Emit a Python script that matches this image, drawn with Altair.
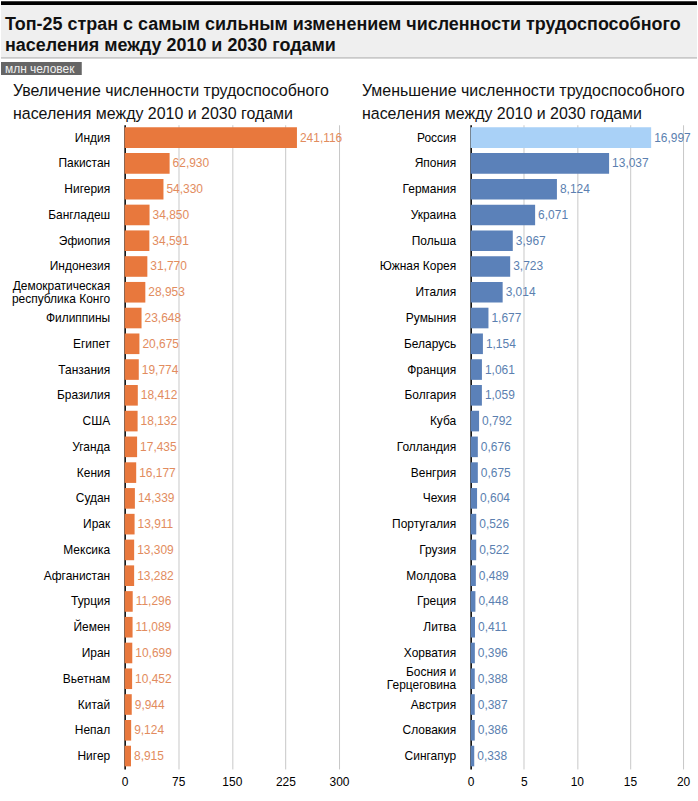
import altair as alt
import pandas as pd

inc_countries = ["Индия", "Пакистан", "Нигерия", "Бангладеш", "Эфиопия", "Индонезия",
                 "Демократическая|республика Конго", "Филиппины", "Египет", "Танзания",
                 "Бразилия", "США", "Уганда", "Кения", "Судан", "Ирак", "Мексика",
                 "Афганистан", "Турция", "Йемен", "Иран", "Вьетнам", "Китай", "Непал", "Нигер"]
inc_values = [241.116, 62.930, 54.330, 34.850, 34.591, 31.770, 28.953, 23.648, 20.675, 19.774,
              18.412, 18.132, 17.435, 16.177, 14.339, 13.911, 13.309, 13.282, 11.296, 11.089,
              10.699, 10.452, 9.944, 9.124, 8.915]

dec_countries = ["Россия", "Япония", "Германия", "Украина", "Польша", "Южная Корея", "Италия",
                 "Румыния", "Беларусь", "Франция", "Болгария", "Куба", "Голландия", "Венгрия",
                 "Чехия", "Португалия", "Грузия", "Молдова", "Греция", "Литва", "Хорватия",
                 "Босния и|Герцеговина", "Австрия", "Словакия", "Сингапур"]
dec_values = [16.997, 13.037, 8.124, 6.071, 3.967, 3.723, 3.014, 1.677, 1.154, 1.061, 1.059,
              0.792, 0.676, 0.675, 0.604, 0.526, 0.522, 0.489, 0.448, 0.411, 0.396, 0.388,
              0.387, 0.386, 0.338]

left_ticks = [0, 75, 150, 225, 300]
right_ticks = [0, 5, 10, 15, 20]
highlight = "Россия"

title_text = "Топ-25 стран с самым сильным изменением численности трудоспособного\nнаселения между 2010 и 2030 годами"
unit_text = "млн человек"
sub_left = "Увеличение численности трудоспособного\nнаселения между 2010 и 2030 годами"
sub_right = "Уменьшение численности трудоспособного\nнаселения между 2010 и 2030 годами"

FONT = "Liberation Sans"

PLOT_H = 646


def panel(countries, values, xmax, ticks, bar_color, label_color):
    df = pd.DataFrame({"country": countries, "value": values})
    y = alt.Y("country:N", sort=countries, title=None,
              scale=alt.Scale(paddingInner=0.2, paddingOuter=0.1),
              axis=alt.Axis(labelExpr="split(datum.label, '|')", labelFont=FONT,
                            labelFontSize=12, labelColor="#000", labelPadding=15,
                            labelLineHeight=13, labelLimit=250, ticks=False,
                            labelOffset=alt.condition("indexof(datum.value, '|') >= 0",
                                                      alt.value(-6.5), alt.value(0)),
                            domainColor="#000", domainWidth=1.5, grid=False))
    x = alt.X("value:Q", title=None,
              scale=alt.Scale(domain=[0, xmax], nice=False, zero=True),
              axis=alt.Axis(values=ticks, grid=True, gridColor="#c8c8c8", domain=False,
                            ticks=False, labelFont=FONT, labelFontSize=12, labelColor="#000",
                            labelPadding=8, labelFlush=False))
    base = alt.Chart(df)
    bars = base.mark_bar().encode(
        x=x, y=y,
        color=alt.condition(alt.datum.country == highlight, alt.value("#a9d1f7"), alt.value(bar_color)),
    )
    labels = base.transform_calculate(
        lab="replace(format(datum.value, '.3f'), '.', ',')"
    ).mark_text(align="left", baseline="middle", dx=3, font=FONT, fontSize=12,
                color=label_color).encode(x="value:Q", y=alt.Y("country:N", sort=countries),
                                          text="lab:N")
    return bars + labels


left_core = panel(inc_countries, inc_values, 300, left_ticks, "#e8783d", "#e28c5e")
right_core = panel(dec_countries, dec_values, 20, right_ticks, "#5b81b9", "#5b7fb0")

one = alt.Data(values=[{"k": 1}])
hdr = alt.Chart(one)
W_LEFT = -124
W_RIGHT = 574

top_bar = hdr.mark_rect(color="#000").encode(
    x=alt.value(W_LEFT), x2=alt.value(W_RIGHT), y=alt.value(-124), y2=alt.value(-120))
bg = hdr.mark_rect(color="#efefef").encode(
    x=alt.value(W_LEFT), x2=alt.value(W_RIGHT), y=alt.value(-120), y2=alt.value(-67))
line = hdr.mark_rule(color="#a8a8a8", strokeWidth=1).encode(
    x=alt.value(W_LEFT), x2=alt.value(W_RIGHT), y=alt.value(-67))
title = hdr.mark_text(align="left", baseline="alphabetic", font=FONT, fontSize=18,
                      fontWeight="bold", color="#111", lineBreak="\n", lineHeight=21).encode(
    x=alt.value(-120), y=alt.value(-95), text=alt.value(title_text))
unit_box = hdr.mark_rect(color="#666666").encode(
    x=alt.value(W_LEFT), x2=alt.value(-43), y=alt.value(-63), y2=alt.value(-50))
unit = hdr.mark_text(align="left", baseline="alphabetic", font=FONT, fontSize=12,
                     color="#f2f2f2").encode(
    x=alt.value(-120), y=alt.value(-52), text=alt.value(unit_text))
subl = hdr.mark_text(align="left", baseline="alphabetic", font=FONT, fontSize=16,
                     color="#111", lineBreak="\n", lineHeight=23).encode(
    x=alt.value(-112), y=alt.value(-29), text=alt.value(sub_left))
subr = hdr.mark_text(align="left", baseline="alphabetic", font=FONT, fontSize=16,
                     color="#111", lineBreak="\n", lineHeight=23).encode(
    x=alt.value(238), y=alt.value(-29), text=alt.value(sub_right))

left = alt.layer(top_bar, bg, line, title, unit_box, unit, subl, subr, left_core).properties(
    width=215, height=PLOT_H)
right = right_core.properties(width=213, height=PLOT_H)

chart = alt.hconcat(left, right, spacing=132, bounds="flush").properties(
    padding=0, background="#ffffff"
).configure_view(stroke=None)

chart.save("out.html", embed_options={"renderer": "svg", "actions": False})
